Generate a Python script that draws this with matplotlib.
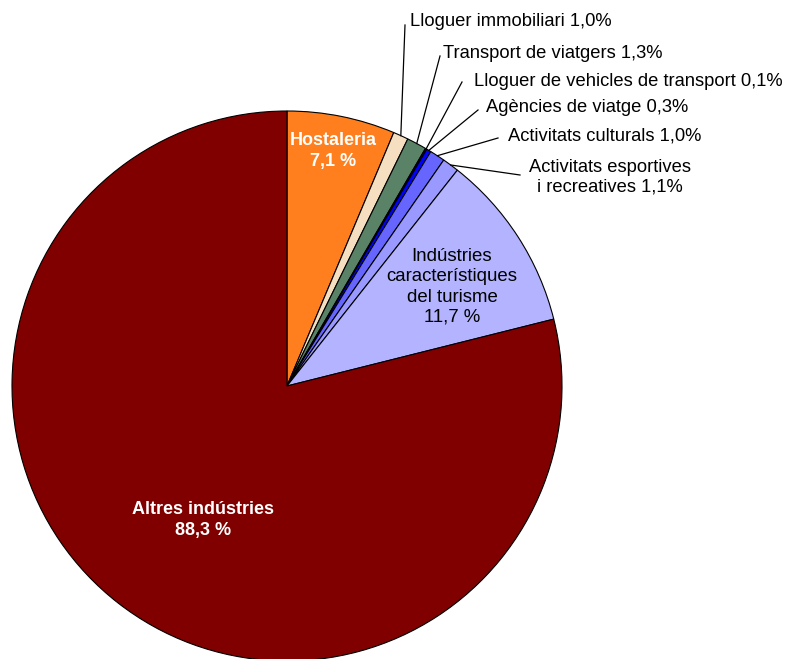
import matplotlib.pyplot as plt
import numpy as np

# data (values as plotted in the original chart)
labels = ['Hostaleria', 'Lloguer immobiliari', 'Transport de viatgers',
          'Lloguer de vehicles de transport', 'Agències de viatge',
          'Activitats culturals', 'Activitats esportives\ni recreatives',
          'Indústries\ncaracterístiques\ndel turisme', 'Altres indústries']
values = [7.1, 1.0, 1.3, 0.1, 0.3, 1.0, 1.1, 11.7, 88.3]
value_text = ['7,1', '1,0', '1,3', '0,1', '0,3', '1,0', '1,1', '11,7', '88,3']
colors = ['#FF7F1E', '#F5DFC0', '#5A8266', '#000080', '#0000FF',
          '#6666FF', '#9999FF', '#B3B3FF', '#800000']

plt.rcParams['font.family'] = ['Liberation Sans', 'DejaVu Sans']

fig = plt.figure(figsize=(7.85, 6.59), dpi=100)
ax = fig.add_axes([0, 0, 1, 1])

cx, cy, R = 287, 659 - 386, 275
wedges, _ = ax.pie(values, colors=colors, startangle=90, counterclock=False,
                   center=(cx, cy), radius=R, frame=True,
                   wedgeprops=dict(edgecolor='black', linewidth=0.8))
ax.set_xlim(0, 785)
ax.set_ylim(0, 659)
ax.set_aspect('equal')
ax.axis('off')

# outside labels with leader lines (small slices)
label_pos = {1: (410, 22), 2: (443, 53), 3: (474, 81), 4: (486, 108),
             5: (508, 136), 6: (610, 177)}
line_end = {1: (405, 25), 2: (440, 56), 3: (462, 82), 4: (478, 110),
            5: (498, 138), 6: (520, 175)}
for i, (tx, ty) in label_pos.items():
    w = wedges[i]
    ang = np.deg2rad((w.theta1 + w.theta2) / 2)
    sx, sy = cx + R * np.cos(ang), cy + R * np.sin(ang)
    ex, ey = line_end[i]
    ax.plot([sx, ex], [sy, 659 - ey], color='black', lw=0.9)
    if i == 6:
        ax.text(tx, 659 - ty, 'Activitats esportives\ni recreatives ' + value_text[i] + '%',
                ha='center', va='center', fontsize=13.2, linespacing=1.2)
    else:
        ax.text(tx, 659 - ty, labels[i] + ' ' + value_text[i] + '%',
                ha='left', va='center', fontsize=13.2)

# inside labels
ax.text(333, 659 - 151, 'Hostaleria\n7,1 %', ha='center', va='center',
        fontsize=13, fontweight='bold', color='white', linespacing=1.3)
ax.text(452, 659 - 287, labels[7] + '\n11,7 %', ha='center', va='center',
        fontsize=13.4, linespacing=1.25)
ax.text(203, 659 - 520, 'Altres indústries\n88,3 %', ha='center', va='center',
        fontsize=13, fontweight='bold', color='white', linespacing=1.3)

fig.savefig('out.png', dpi=100)
